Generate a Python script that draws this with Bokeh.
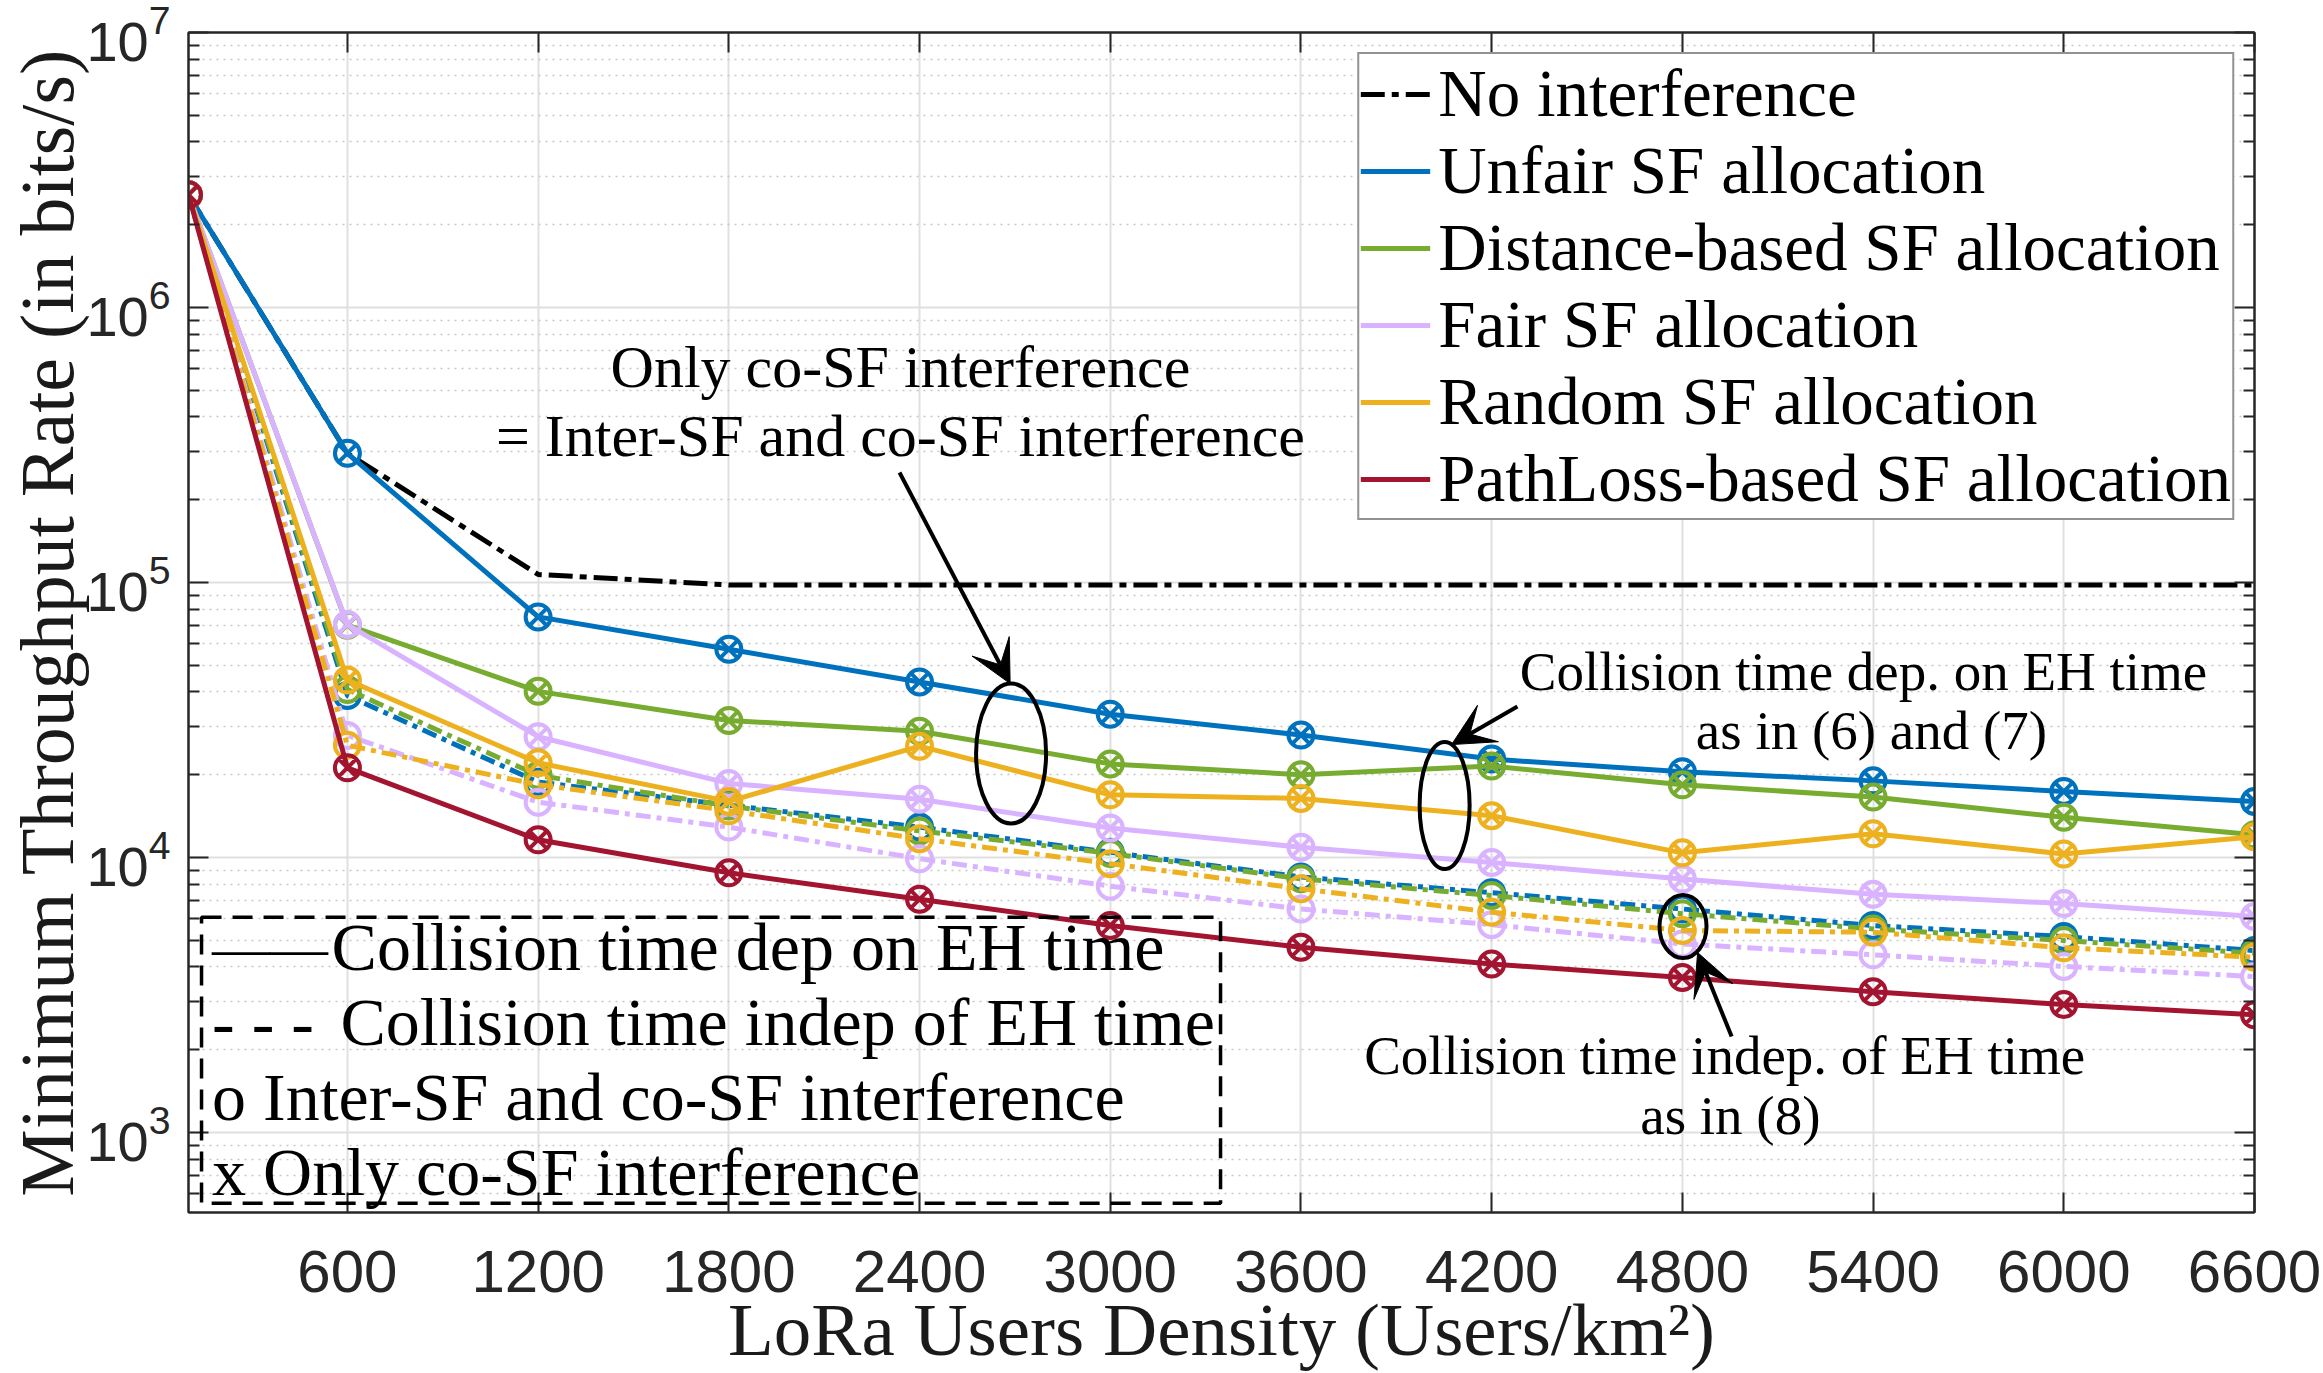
from bokeh.plotting import figure
from bokeh.models import (Range1d, FixedTicker, LogAxis, LinearAxis, Legend, LegendItem,
                          BoxAnnotation, Arrow, VeeHead, Label, CustomJSTickFormatter)
from bokeh.embed import file_html
from bokeh.resources import INLINE

# ---------------- data ----------------
density = [100, 600, 1200, 1800, 2400, 3000, 3600, 4200, 4800, 5400, 6000, 6600]
x_ticks = [600, 1200, 1800, 2400, 3000, 3600, 4200, 4800, 5400, 6000, 6600]
y_major = [1e3, 1e4, 1e5, 1e6, 1e7]

no_interference = [2.57e6, 2.95e5, 1.07e5, 9.8e4, 9.8e4, 9.8e4, 9.8e4, 9.8e4, 9.8e4, 9.8e4, 9.8e4, 9.8e4]

# collision time dependent on EH time (solid)
unfair = [2.57e6, 2.95e5, 7.5e4, 5.72e4, 4.35e4, 3.32e4, 2.79e4, 2.28e4, 2.05e4, 1.90e4, 1.74e4, 1.60e4]
distance = [2.57e6, 7.0e4, 4.02e4, 3.15e4, 2.88e4, 2.19e4, 2.0e4, 2.15e4, 1.84e4, 1.66e4, 1.40e4, 1.21e4]
fair = [2.57e6, 7.03e4, 2.75e4, 1.86e4, 1.63e4, 1.28e4, 1.09e4, 9.6e3, 8.35e3, 7.35e3, 6.8e3, 6.1e3]
random_sf = [2.57e6, 4.42e4, 2.21e4, 1.6e4, 2.54e4, 1.69e4, 1.64e4, 1.42e4, 1.04e4, 1.22e4, 1.03e4, 1.19e4]
pathloss = [2.57e6, 2.12e4, 1.16e4, 8.8e3, 7.05e3, 5.66e3, 4.72e3, 4.1e3, 3.66e3, 3.25e3, 2.92e3, 2.68e3]

# collision time independent of EH time (dash-dot)
unfair_d = [2.57e6, 3.88e4, 1.88e4, 1.55e4, 1.29e4, 1.045e4, 8.5e3, 7.45e3, 6.5e3, 5.66e3, 5.16e3, 4.59e3]
distance_d = [2.57e6, 4.08e4, 1.99e4, 1.54e4, 1.25e4, 1.035e4, 8.37e3, 7.28e3, 6.25e3, 5.5e3, 4.99e3, 4.49e3]
fair_d = [2.57e6, 2.78e4, 1.59e4, 1.29e4, 9.9e3, 7.87e3, 6.5e3, 5.7e3, 4.85e3, 4.43e3, 4.02e3, 3.69e3]
random_d = [2.57e6, 2.56e4, 1.84e4, 1.48e4, 1.17e4, 9.5e3, 7.7e3, 6.33e3, 5.43e3, 5.35e3, 4.7e3, 4.34e3]

# ---------------- styles ----------------
BLUE, GREEN, LAV, YEL, RED = "#0072BD", "#77AC30", "#D9B3FF", "#EDB120", "#A2142F"
AX = "#262626"
SERIF = "Liberation Serif"
SANS = "Liberation Sans"

p = figure(width=2323, height=1373, y_axis_type="log",
           x_range=Range1d(100, 6600), y_range=Range1d(512, 1e7),
           output_backend="svg", toolbar_location=None,
           min_border_left=188, min_border_right=69, min_border_top=32, min_border_bottom=161)
p.background_fill_color = "white"
p.border_fill_color = "white"
p.outline_line_color = AX
p.outline_line_width = 2

x_ticker = FixedTicker(ticks=x_ticks)
y_minor = [k * d for d in [1e2, 1e3, 1e4, 1e5, 1e6] for k in range(2, 10) if k * d > 512]
y_ticker = FixedTicker(ticks=y_major, minor_ticks=y_minor)

xa = p.xaxis[0]
xa.ticker = x_ticker
xa.axis_label = "LoRa Users Density (Users/km²)"
xa.axis_label_text_font = SERIF
xa.axis_label_text_font_size = "75px"
xa.axis_label_text_font_style = "normal"
xa.axis_label_text_color = "#1a1a1a"
xa.axis_label_standoff = -7
xa.major_label_text_font = SANS
xa.major_label_text_font_size = "60px"
xa.major_label_text_color = AX
xa.major_label_standoff = 38
xa.major_tick_in = 20
xa.major_tick_out = 0
xa.minor_tick_in = 0
xa.minor_tick_out = 0
xa.axis_line_color = AX
xa.axis_line_width = 2
xa.major_tick_line_color = AX
xa.major_tick_line_width = 2

ya = p.yaxis[0]
ya.ticker = y_ticker
ya.axis_label = "Minimum Throughput Rate (in bits/s)"
ya.axis_label_text_font = SERIF
ya.axis_label_text_font_size = "76px"
ya.axis_label_text_font_style = "normal"
ya.axis_label_text_color = "#1a1a1a"
ya.axis_label_standoff = -6
ya.major_label_text_font = SANS
ya.major_label_text_font_size = "56px"
ya.major_label_text_color = AX
ya.major_label_standoff = 18
ya.major_tick_in = 20
ya.major_tick_out = 0
ya.minor_tick_in = 11
ya.minor_tick_out = 0
ya.axis_line_color = AX
ya.axis_line_width = 2
ya.major_tick_line_color = AX
ya.major_tick_line_width = 2
ya.minor_tick_line_color = AX
ya.minor_tick_line_width = 2

blank = CustomJSTickFormatter(code="return ''")
top_ax = LinearAxis(ticker=x_ticker, formatter=blank, major_tick_in=20, major_tick_out=0,
                    minor_tick_in=0, minor_tick_out=0, major_label_standoff=0,
                    major_label_text_font_size="1px", axis_line_color=AX, axis_line_width=2,
                    major_tick_line_color=AX, major_tick_line_width=2)
p.add_layout(top_ax, "above")
right_ax = LogAxis(ticker=y_ticker, formatter=blank, major_tick_in=20, major_tick_out=0,
                   minor_tick_in=11, minor_tick_out=0, major_label_standoff=0,
                   major_label_text_font_size="1px", axis_line_color=AX, axis_line_width=2,
                   major_tick_line_color=AX, major_tick_line_width=2,
                   minor_tick_line_color=AX, minor_tick_line_width=2)
p.add_layout(right_ax, "right")

p.xgrid.grid_line_color = "#e0e0e0"
p.xgrid.grid_line_width = 2
p.ygrid.grid_line_color = "#e0e0e0"
p.ygrid.grid_line_width = 2
p.ygrid.minor_grid_line_color = "#c8c8c8"
p.ygrid.minor_grid_line_width = 1.5
p.ygrid.minor_grid_line_dash = "2 5"

LW = 5
MS = 25
MLW = 4
DASH_BLACK = "24 7 7 7"
DASH_COL = "15 6 5 6"

r_noint = p.line(density, no_interference, line_color="black", line_width=5, line_dash=DASH_BLACK)

dashed = [(unfair_d, BLUE), (distance_d, GREEN), (fair_d, LAV), (random_d, YEL)]
for ys, c in dashed:
    p.line(density, ys, line_color=c, line_width=LW, line_dash=DASH_COL)
    p.scatter(density, ys, marker="circle", size=MS, line_color=c, line_width=MLW, fill_color=None)

solid = [("Unfair SF allocation", unfair, BLUE),
         ("Distance-based SF allocation", distance, GREEN),
         ("Fair SF allocation", fair, LAV),
         ("Random SF allocation", random_sf, YEL),
         ("PathLoss-based SF allocation", pathloss, RED)]
legend_items = [LegendItem(label="No interference", renderers=[r_noint])]
for lab, ys, c in solid:
    r = p.line(density, ys, line_color=c, line_width=LW)
    p.scatter(density, ys, marker="circle_x", size=MS, line_color=c, line_width=MLW, fill_color=None)
    legend_items.append(LegendItem(label=lab, renderers=[r]))

legend = Legend(items=legend_items, location="top_right", margin=20, padding=1, spacing=-1,
                label_text_font=SERIF, label_text_font_size="67px", label_text_color="black",
                label_standoff=8, label_height=75, glyph_width=70, glyph_height=40,
                border_line_color=AX, border_line_width=2,
                background_fill_color="white", background_fill_alpha=1.0)
p.add_layout(legend)

# ---------------- annotations ----------------
ell_x = [2688, 4052, 4802]
ell_y = [2.389e4, 1.546e4, 5612]
ell_w = [70, 50, 47]
ell_h = [140, 127, 63]
p.ellipse(x=ell_x, y=ell_y, width=ell_w, height=ell_h, width_units="screen", height_units="screen",
          fill_color=None, line_color="black", line_width=4)

arrows = [((2337, 2.512e5), (2685, 4.292e4)),
          ((4281, 3.541e4), (4074, 2.575e4)),
          ((4955, 2234), (4848, 4512))]
for (xs, ys), (xe, ye) in arrows:
    p.add_layout(Arrow(end=VeeHead(size=42, fill_color="black", line_color="black", line_width=1),
                       x_start=xs, y_start=ys, x_end=xe, y_end=ye,
                       line_color="black", line_width=4))


def add_text(x, y, t, size, align="center"):
    p.add_layout(Label(x=x, y=y, text=t, text_font=SERIF, text_font_size=size,
                       text_align=align, text_baseline="alphabetic", text_color="black"))


add_text(2340, 6.07e5, "Only co-SF interference", "60px")
add_text(2340, 3.41e5, "= Inter-SF and co-SF interference", "60px")
add_text(5370, 4.76e4, "Collision time dep. on EH time", "55px")
add_text(5395, 2.90e4, "as in (6) and (7)", "55px")
add_text(4933, 1906, "Collision time indep. of EH time", "55px")
add_text(4951, 1153, "as in (8)", "55px")

p.add_layout(BoxAnnotation(left=141, right=3347, bottom=553, top=6067, fill_color=None, fill_alpha=0,
                           line_color="black", line_alpha=1.0, line_width=3.5, line_dash="20 11"))
add_text(174, 4700, "——", "58px", "left")
add_text(550, 4729, "Collision time dep on EH time", "68px", "left")
add_text(174, 2523, "- - -", "68px", "left")
add_text(578, 2523, "Collision time indep of EH time", "68px", "left")
add_text(174, 1347, "o Inter-SF and co-SF interference", "68px", "left")
add_text(174, 718, "x Only co-SF interference", "68px", "left")

open("out.html", "w").write(file_html(p, INLINE))
